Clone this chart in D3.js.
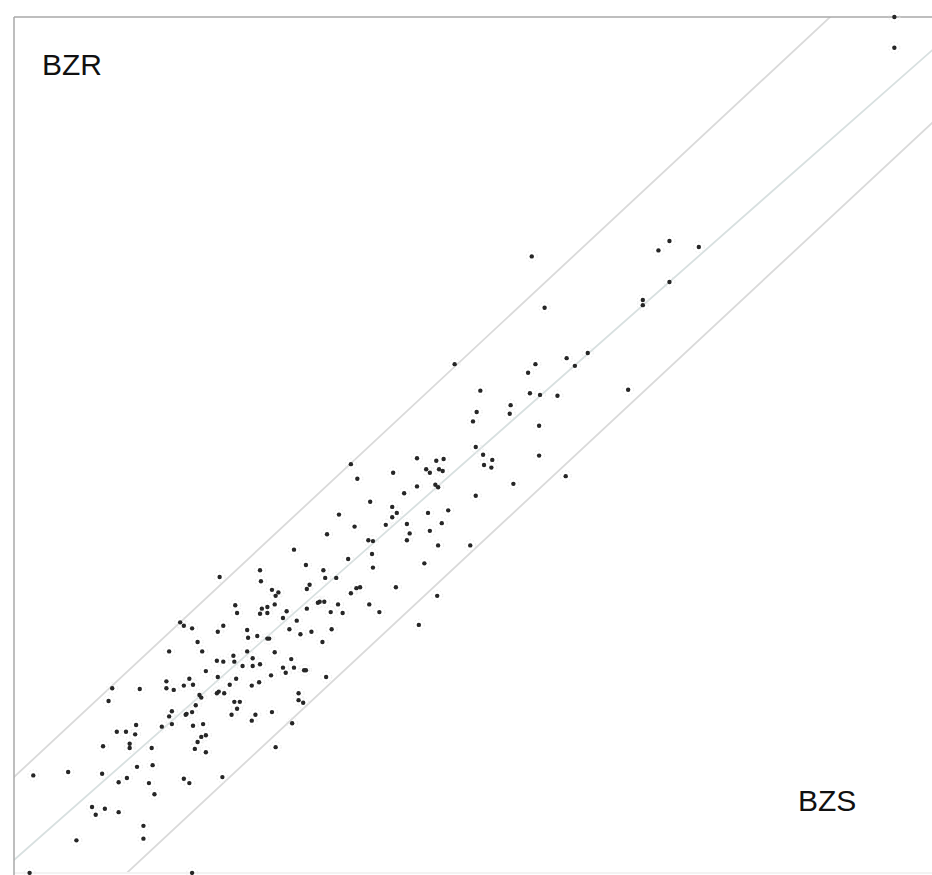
<!DOCTYPE html>
<html>
<head>
<meta charset="utf-8">
<script src="https://cdn.jsdelivr.net/npm/d3@7"></script>
<style>
  html, body { margin: 0; padding: 0; background: #fff; }
  svg { display: block; }
  text { font-family: "Liberation Sans", Arial, sans-serif; }
</style>
</head>
<body>
<svg id="chart" width="932" height="875"></svg>
<script>
// BZS (horizontal) and BZR (vertical) values for each sample
const bzs = [
  95.9, 95.9, 71.4, 70.2, 74.6, 71.4, 68.5, 68.5, 56.4, 57.8,
  48.0, 62.5, 60.2, 61.1, 56.8, 56.0, 56.2, 57.3, 59.2, 66.9,
  50.8, 50.4, 50.0, 54.1, 54.0, 57.2, 57.2, 50.3, 51.1, 52.1,
  51.2, 52.0, 43.9, 46.0, 46.8, 44.9, 45.3, 46.3, 46.7, 41.3,
  43.9, 45.9, 46.2, 54.4, 60.1, 50.3, 36.7, 37.4, 42.5, 38.8,
  35.4, 41.2, 41.7, 41.2, 40.5, 37.1, 42.8, 43.1, 42.8, 45.1,
  47.3, 46.6, 45.3, 46.2, 49.7, 34.1, 38.6, 39.1, 39.0, 36.4,
  39.1, 31.8, 33.7, 33.9, 35.1, 44.7, 32.2, 31.9, 41.6, 46.1,
  36.7, 37.3, 37.7, 33.1, 33.3, 33.8, 35.3, 31.9, 34.5, 35.8,
  38.7, 39.8, 44.1, 34.6,
  24.1, 24.3, 27.0, 27.6, 28.4, 26.8, 27.6, 29.7, 29.3, 30.8,
  18.1, 18.5, 19.4, 22.8, 22.2, 25.4, 25.5, 26.5, 27.6, 27.8,
  30.0, 31.2, 32.4, 33.6, 20.0, 20.5, 16.9, 22.1, 22.8, 23.9,
  24.0, 24.9, 25.4, 26.0, 26.0, 26.8, 28.4, 30.2, 29.3, 29.6,
  30.5, 31.6, 31.8, 34.0, 20.9, 22.2, 28.0, 24.2, 23.5, 25.9,
  26.7, 16.6, 16.6, 17.4, 18.5, 19.1, 19.5, 13.7, 10.7, 10.3,
  20.2, 20.4, 22.1, 22.3, 22.9, 19.8, 24.0, 24.6, 24.3, 31.0,
  31.0, 31.5, 17.2, 16.9, 18.7, 18.8, 19.4, 23.7, 26.3, 25.9,
  28.1, 30.3, 13.3, 16.1, 17.2, 19.5, 20.6, 11.2, 12.2, 13.2,
  20.4, 20.9, 20.0, 19.7, 20.9, 12.6, 12.6, 9.7, 15.0, 28.5,
  13.4, 15.1, 9.6, 11.4, 12.3, 14.7, 15.3, 18.5, 19.1, 22.7,
  8.5, 8.9, 9.9, 11.4, 14.1, 14.1, 2.1, 5.9, 6.8, 1.7,
  19.4, 26.9, 28.1, 28.8, 28.5, 22.4, 26.8, 30.5
];
const bzr = [
  100.0, 96.4, 73.8, 72.7, 73.1, 69.0, 66.9, 66.3, 72.0, 66.0,
  59.4, 60.7, 60.1, 59.2, 59.4, 58.4, 56.0, 55.8, 55.7, 56.4,
  56.3, 53.8, 52.7, 54.6, 53.6, 52.2, 48.7, 49.7, 48.8, 48.2,
  47.6, 47.3, 48.4, 48.1, 48.3, 47.1, 46.7, 47.1, 46.9, 46.7,
  45.1, 45.3, 45.0, 45.4, 46.3, 44.0, 47.7, 46.0, 44.3, 43.3,
  41.8, 42.7, 42.0, 41.5, 40.6, 40.4, 40.7, 39.6, 38.8, 42.0,
  42.3, 40.8, 39.9, 38.2, 38.2, 39.5, 38.8, 38.7, 37.2, 36.6,
  35.6, 35.9, 35.3, 34.4, 34.4, 36.1, 33.6, 33.1, 33.3, 32.3,
  32.6, 33.2, 33.3, 31.5, 31.6, 31.6, 31.3, 30.8, 30.4, 30.3,
  31.3, 30.4, 28.9, 28.4,
  31.2, 30.3, 30.8, 31.0, 31.3, 30.2, 30.3, 30.5, 29.7, 29.4,
  29.2, 28.8, 28.5, 28.8, 28.1, 28.3, 27.4, 27.6, 27.3, 27.3,
  28.4, 27.8, 28.1, 26.9, 26.9, 25.8, 25.8, 24.7, 24.6, 25.3,
  24.6, 24.1, 25.8, 25.0, 24.1, 24.3, 25.7, 24.9, 23.9, 23.3,
  23.9, 23.6, 23.6, 22.8, 23.5, 22.8, 23.0, 22.6, 21.9, 21.8,
  22.2, 22.3, 21.5, 21.3, 21.8, 22.6, 21.9, 21.4, 21.5, 20.0,
  20.7, 20.4, 20.9, 21.1, 20.9, 19.5, 19.9, 19.9, 19.1, 20.9,
  20.1, 19.8, 18.8, 18.2, 18.4, 18.5, 18.7, 18.4, 18.4, 17.7,
  18.7, 17.4, 17.2, 17.0, 17.3, 17.1, 17.3, 16.4, 16.4, 16.1,
  15.8, 16.0, 15.2, 14.4, 14.0, 15.0, 14.5, 14.7, 14.5, 14.6,
  12.3, 12.5, 11.5, 10.5, 11.0, 10.4, 9.1, 10.9, 10.4, 11.1,
  7.6, 6.7, 7.4, 7.0, 5.4, 3.9, 11.3, 11.7, 3.7, -0.1,
  -0.1, 34.0, 33.0, 32.7, 32.3, 34.5, 35.3, 37.7
];

// Reference lines: upper limit, fitted centre line, lower limit
const refLines = [
  { name: "upper",  slope: 1.0,   intercept: 11.1,  color: "#dadada" },
  { name: "centre", slope: 0.947, intercept: 1.4,   color: "#d8e0e0" },
  { name: "lower",  slope: 1.0,   intercept: -12.4, color: "#dadada" }
];

const axisLabels = { x: "BZS", y: "BZR" };

const svg = d3.select("#chart");
const x = d3.scaleLinear().domain([0, 100]).range([14, 932]);
const y = d3.scaleLinear().domain([0, 100]).range([872, 17]);

// clip region for the plot area
svg.append("clipPath").attr("id", "plot-clip")
  .append("rect")
  .attr("x", x(0)).attr("y", y(100))
  .attr("width", x(100) - x(0)).attr("height", y(0) - y(100));

// frame: faint bottom edge, grey left and top edges
svg.append("line")
  .attr("x1", x(0)).attr("x2", x(100))
  .attr("y1", y(0) + 1).attr("y2", y(0) + 1)
  .attr("stroke", "#f3f3f3").attr("stroke-width", 2);

const lines = svg.append("g").attr("clip-path", "url(#plot-clip)");
refLines.forEach(l => {
  const xs = [-20, 120];
  lines.append("line")
    .attr("x1", x(xs[0])).attr("y1", y(l.slope * xs[0] + l.intercept))
    .attr("x2", x(xs[1])).attr("y2", y(l.slope * xs[1] + l.intercept))
    .attr("stroke", l.color)
    .attr("stroke-width", 1.8);
});

svg.append("line")
  .attr("x1", x(0)).attr("x2", x(0))
  .attr("y1", y(100)).attr("y2", 875)
  .attr("stroke", "#a9a9a9").attr("stroke-width", 1.5);
svg.append("line")
  .attr("x1", x(0)).attr("x2", 932)
  .attr("y1", y(100)).attr("y2", y(100))
  .attr("stroke", "#a9a9a9").attr("stroke-width", 1.5);

// sample points, each with a faint grey surround
const pts = bzs.map((v, i) => ({ bzs: v, bzr: bzr[i] }));
const pointLayer = svg.append("g");
pointLayer.selectAll("circle.halo")
  .data(pts)
  .join("circle")
  .attr("class", "halo")
  .attr("cx", d => x(d.bzs))
  .attr("cy", d => y(d.bzr))
  .attr("r", 5.5)
  .attr("fill", "none")
  .attr("stroke", "#ececec")
  .attr("stroke-width", 1)
  .attr("stroke-dasharray", "1.5 2");
pointLayer.selectAll("circle.dot")
  .data(pts)
  .join("circle")
  .attr("class", "dot")
  .attr("cx", d => x(d.bzs))
  .attr("cy", d => y(d.bzr))
  .attr("r", 2.2)
  .attr("fill", "#262626");

// axis names
svg.append("text")
  .attr("x", 42).attr("y", 75)
  .attr("font-size", 30).attr("fill", "#111")
  .text(axisLabels.y);
svg.append("text")
  .attr("x", 798).attr("y", 811)
  .attr("font-size", 30).attr("fill", "#111")
  .text(axisLabels.x);
</script>
</body>
</html>
